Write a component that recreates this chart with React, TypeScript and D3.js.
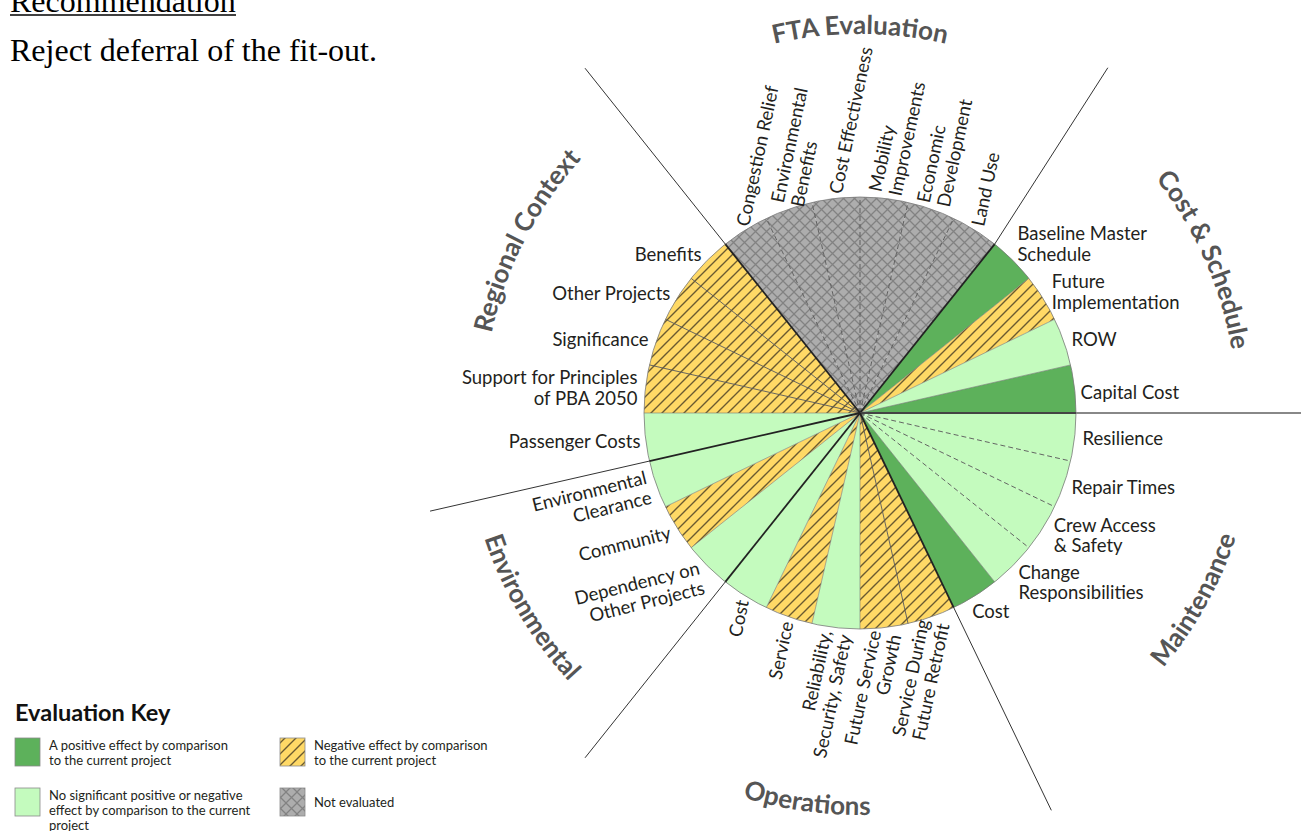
import React from 'react';
import * as d3 from 'd3';

// ---------- DATA ----------
const categories = ['FTA Evaluation', 'Cost & Schedule', 'Maintenance', 'Operations', 'Environmental', 'Regional Context'];

const criteria = [
  'Congestion Relief', 'Environmental\nBenefits', 'Cost Effectiveness', 'Mobility\nImprovements', 'Economic\nDevelopment', 'Land Use',
  'Baseline Master\nSchedule', 'Future\nImplementation', 'ROW', 'Capital Cost',
  'Resilience', 'Repair Times', 'Crew Access\n& Safety', 'Change\nResponsibilities', 'Cost',
  'Service During\nFuture Retrofit', 'Future Service\nGrowth', 'Reliability,\nSecurity, Safety', 'Service', 'Cost',
  'Dependency on\nOther Projects', 'Community', 'Environmental\nClearance',
  'Passenger Costs', 'Support for Principles\nof PBA 2050', 'Significance', 'Other Projects', 'Benefits',
];

const criterionCategory = [
  0, 0, 0, 0, 0, 0,
  1, 1, 1, 1,
  2, 2, 2, 2, 2,
  3, 3, 3, 3, 3,
  4, 4, 4,
  5, 5, 5, 5, 5,
];

// pos = positive, neu = no significant effect, neg = negative, none = not evaluated
const ratings = [
  'none', 'none', 'none', 'none', 'none', 'none',
  'pos', 'neg', 'neu', 'pos',
  'neu', 'neu', 'neu', 'neu', 'pos',
  'neg', 'neg', 'neu', 'neg', 'neu',
  'neu', 'neg', 'neu',
  'neu', 'neg', 'neg', 'neg', 'neg',
];

const legendKeys = ['pos', 'neu', 'neg', 'none'];
const legendLabels = [
  'A positive effect by comparison\nto the current project',
  'No significant positive or negative\neffect by comparison to the current\nproject',
  'Negative effect by comparison\nto the current project',
  'Not evaluated',
];

const headingText = 'Recommendation';
const recommendationText = 'Reject deferral of the fit-out.';
const legendTitle = 'Evaluation Key';

// ---------- LAYOUT / STYLE ----------
const W = 1301;
const H = 831;
const cx = 860;
const cy = 413;
const R = 216;
const LINE_LEN = 441;
const FONT = "Lato, 'Open Sans', 'DejaVu Sans', sans-serif";
const LABEL_FS = 18.5;
const LABEL_LH = 20.5;

const fills: Record<string, string> = {
  pos: '#5DB15B',
  neu: '#C4FBBE',
  neg: 'url(#negHatch)',
  none: 'url(#noneHatch)',
};

// label style per category
const catLabelStyle = [
  { rotate: -78, anchor: 'start', r: 221 },
  { rotate: 0, anchor: 'start', r: 224 },
  { rotate: 0, anchor: 'start', r: 224 },
  { rotate: -78, anchor: 'end', r: 221 },
  { rotate: -14, anchor: 'end', r: 224 },
  { rotate: 0, anchor: 'end', r: 224 },
];
const labelNudge: Record<number, [number, number]> = {
  6: [-1, -11],
  7: [2, -2],
  9: [-2, 4],
  12: [4, 3],
  13: [0, 11],
  14: [-7, 9],
  20: [0, 6],
  23: [3, 3],
};
const titleAngleNudgeDeg = [0, 1.7, -3, 1.3, 1.6, 8];
const titleRadius = [379, 377, 396, 402, 396, 377];
// outer end of boundary lines: [angle offset in degrees, length]
const boundaryEnd: Record<number, [number, number]> = { 1: [-2.9, 425] };

function polar(r: number, a: number): [number, number] {
  return [cx + r * Math.sin(a), cy - r * Math.cos(a)];
}

export default function App() {
  const n = criteria.length;
  const step = (2 * Math.PI) / n;
  const firstCount = criterionCategory.filter((c) => c === 0).length;
  const start = -(firstCount / 2) * step;

  const pie = d3
    .pie<number>()
    .value(() => 1)
    .sort(null)
    .startAngle(start)
    .endAngle(start + 2 * Math.PI);
  const arcsData = pie(criteria.map(() => 1));
  const arc = d3.arc<d3.PieArcDatum<number>>().innerRadius(0).outerRadius(R);

  const catExtents = categories.map((_, ci) => {
    const idx = arcsData.filter((_, i) => criterionCategory[i] === ci);
    return [idx[0].startAngle, idx[idx.length - 1].endAngle];
  });

  const lineGen = d3.line();

  return (
    <svg
      width={W}
      height={H}
      style={{ position: 'absolute', left: 0, top: 0, display: 'block', background: '#fff' }}
      fontFamily={FONT}
    >
      <defs>
        <pattern id="negHatch" patternUnits="userSpaceOnUse" width={11} height={11}>
          <rect width={11} height={11} fill="#FFD966" />
          <path d="M-2,2 L2,-2 M0,11 L11,0 M9,13 L13,9" stroke="#6a5a30" strokeWidth={1.4} />
        </pattern>
        <pattern id="noneHatch" patternUnits="userSpaceOnUse" width={11} height={11}>
          <rect width={11} height={11} fill="#ADADAD" />
          <path d="M-1,-1 L12,12 M12,-1 L-1,12" stroke="#828282" strokeWidth={1.3} />
        </pattern>
      </defs>

      {/* heading */}
      <text x={10} y={12} fontFamily="'Liberation Serif', 'Times New Roman', serif" fontSize={32} fill="#000">
        {headingText}
      </text>
      <line x1={10} x2={236} y1={15} y2={15} stroke="#000" strokeWidth={1.6} />
      <text x={10} y={61} fontFamily="'Liberation Serif', 'Times New Roman', serif" fontSize={32} fill="#000">
        {recommendationText}
      </text>

      {/* wedges */}
      <g transform={`translate(${cx},${cy})`}>
        {arcsData.map((d, i) => (
          <path key={i} d={arc(d) || ''} fill={fills[ratings[i]]} />
        ))}
      </g>

      {/* internal separators */}
      {arcsData.map((d, i) => {
        if (i === 0 || criterionCategory[i] !== criterionCategory[i - 1]) return null;
        const p = polar(R, d.startAngle);
        const same = ratings[i] === ratings[i - 1];
        return (
          <path
            key={'s' + i}
            d={lineGen([[cx, cy], p]) || ''}
            stroke={same ? '#555' : '#777'}
            strokeWidth={same ? 0.9 : 0.6}
            strokeDasharray={same && ratings[i] !== 'neg' ? '5,3' : undefined}
            fill="none"
          />
        );
      })}

      {/* outline */}
      <circle cx={cx} cy={cy} r={R} fill="none" stroke="#7a7a7a" strokeWidth={0.8} />

      {/* category boundaries */}
      {catExtents.map(([a0], ci) => {
        const pIn = polar(R, a0);
        const be = boundaryEnd[ci] || [0, LINE_LEN];
        const pOut = polar(be[1], a0 + (be[0] * Math.PI) / 180);
        const horizontal = Math.abs(Math.cos(a0)) < 1e-6;
        return (
          <g key={'b' + ci}>
            <path d={lineGen([[cx, cy], pIn]) || ''} stroke={horizontal ? '#444' : '#222'} strokeWidth={horizontal ? 2 : 1.8} fill="none" />
            <path d={lineGen([pIn, pOut]) || ''} stroke={horizontal ? '#888' : '#333'} strokeWidth={horizontal ? 2 : 1} fill="none" />
          </g>
        );
      })}

      {/* criterion labels */}
      {arcsData.map((d, i) => {
        const ci = criterionCategory[i];
        const st = catLabelStyle[ci];
        const mid = (d.startAngle + d.endAngle) / 2;
        const [x0, y0] = polar(st.r, mid);
        const nudge = labelNudge[i] || [0, 0];
        const lines = criteria[i].split('\n');
        return (
          <text
            key={'l' + i}
            transform={`translate(${x0 + nudge[0]},${y0 + nudge[1]}) rotate(${st.rotate})`}
            textAnchor={st.anchor as any}
            fontSize={LABEL_FS}
            fill="#231F20"
          >
            {lines.map((ln, j) => (
              <tspan key={j} x={0} y={(j - (lines.length - 1) / 2) * LABEL_LH + LABEL_FS * 0.36}>
                {ln}
              </tspan>
            ))}
          </text>
        );
      })}

      {/* category titles along arcs */}
      {catExtents.map(([a0, a1], ci) => {
        const mid = (a0 + a1) / 2 + (titleAngleNudgeDeg[ci] * Math.PI) / 180;
        const top = Math.cos(mid) > 0;
        const span = 0.9;
        const r = titleRadius[ci];
        let dPath;
        if (top) {
          const [sx, sy] = polar(r, mid - span);
          const [ex, ey] = polar(r, mid + span);
          dPath = `M${sx},${sy} A${r},${r} 0 0 1 ${ex},${ey}`;
        } else {
          const [sx, sy] = polar(r, mid + span);
          const [ex, ey] = polar(r, mid - span);
          dPath = `M${sx},${sy} A${r},${r} 0 0 0 ${ex},${ey}`;
        }
        return (
          <g key={'t' + ci}>
            <path id={'tp' + ci} d={dPath} fill="none" stroke="none" />
            <text fontSize={26} fontWeight={700} fill="#555">
              <textPath href={'#tp' + ci} startOffset="50%" textAnchor="middle">
                {categories[ci]}
              </textPath>
            </text>
          </g>
        );
      })}

      {/* legend */}
      <text x={15} y={721} fontSize={23.5} fontWeight={700} fill="#111">
        {legendTitle}
      </text>
      {legendKeys.map((k, i) => {
        const col = Math.floor(i / 2);
        const row = i % 2;
        const x = 15 + col * 265;
        const y = 738 + row * 50;
        const lines = legendLabels[i].split('\n');
        return (
          <g key={'lg' + i}>
            <rect x={x} y={y} width={25} height={28} fill={fills[k]} stroke="#8a8a8a" strokeWidth={0.8} />
            <text fontSize={13} fill="#231F20">
              {lines.map((ln, j) => (
                <tspan key={j} x={x + 34} y={lines.length === 1 ? y + 18.5 : y + 11.5 + j * 15}>
                  {ln}
                </tspan>
              ))}
            </text>
          </g>
        );
      })}
    </svg>
  );
}
